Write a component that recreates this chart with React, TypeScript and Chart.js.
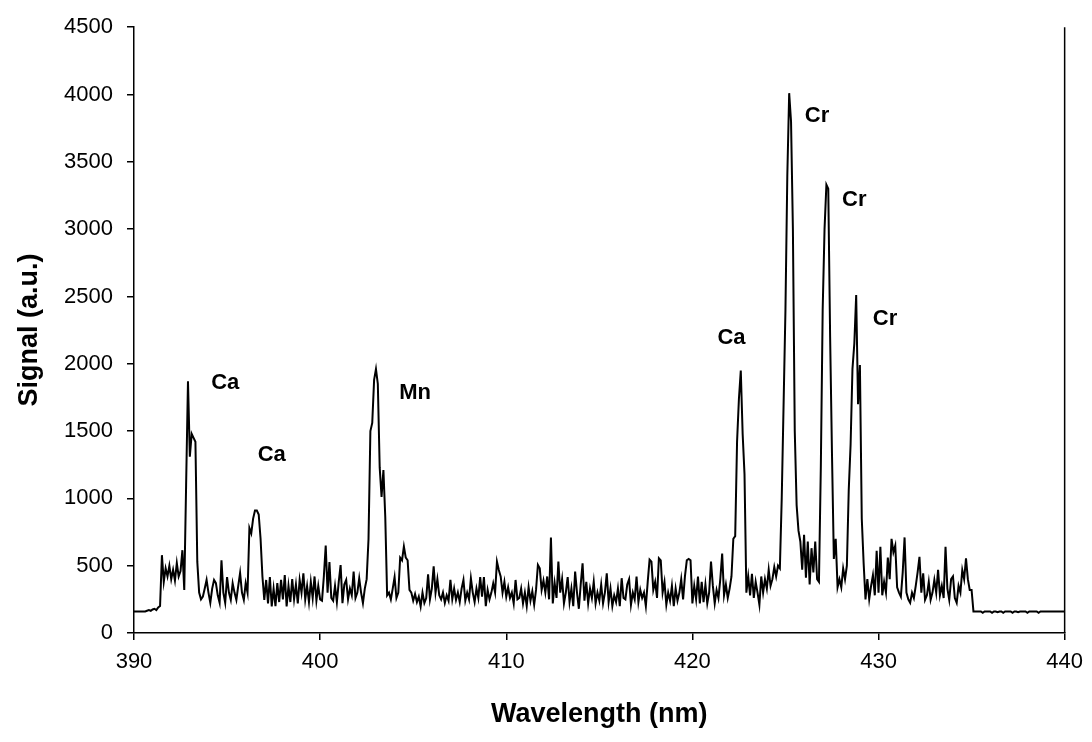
import React, { useEffect, useRef } from "react";
import { Chart, registerables } from "chart.js";

Chart.register(...registerables);

// Spectrum sampling grid (nm)
const WAVELENGTH_START = 390;
const WAVELENGTH_STEP = 0.1;

// Signal (a.u.), one value per 0.1 nm from 390.0 to 440.0
const SIGNAL: number[] = [
  // 390
  160, 160, 160, 160, 160, 160, 160, 165, 170, 165,
  // 391
  175, 180, 170, 190, 200, 578, 380, 480, 420, 500,
  // 392
  400, 470, 390, 520, 420, 460, 615, 320, 1100, 1870,
  // 393
  1310, 1480, 1450, 1420, 530, 300, 250, 270, 330, 394,
  // 394
  300, 224, 330, 394, 370, 280, 224, 540, 300, 224,
  // 395
  416, 300, 246, 370, 300, 246, 350, 446, 300, 246,
  // 396
  370, 300, 780, 740, 850, 910, 910, 880, 700, 420,
  // 397
  246, 394, 220, 416, 197, 330, 200, 370, 230, 394,
  // 398
  250, 431, 197, 350, 230, 400, 250, 360, 220, 394,
  // 399
  300, 444, 250, 350, 230, 380, 260, 420, 240, 350,
  // 400
  250, 240, 420, 650, 300, 527, 260, 240, 350, 230,
  // 401
  380, 505, 222, 360, 394, 250, 330, 280, 456, 260,
  // 402
  300, 407, 300, 222, 330, 400, 700, 1500, 1560, 1880,
  // 403
  1960, 1850, 1230, 1010, 1210, 860, 280, 300, 250, 330,
  // 404
  416, 260, 300, 560, 540, 643, 560, 540, 320, 300,
  // 405
  240, 290, 230, 270, 197, 300, 223, 260, 436, 250,
  // 406
  330, 495, 300, 400, 280, 250, 300, 223, 280, 240,
  // 407
  394, 250, 330, 246, 300, 230, 330, 394, 240, 300,
  // 408
  250, 407, 300, 230, 330, 260, 416, 270, 416, 200,
  // 409
  320, 250, 300, 369, 300, 530, 468, 420, 300, 380,
  // 410
  270, 340, 260, 300, 220, 394, 250, 260, 330, 220,
  // 411
  300, 200, 340, 240, 310, 210, 320, 505, 480, 320,
  // 412
  390, 300, 420, 250, 710, 220, 370, 260, 530, 300,
  // 413
  400, 220, 300, 416, 230, 330, 200, 456, 300, 180,
  // 414
  360, 517, 240, 380, 220, 330, 260, 380, 220, 300,
  // 415
  240, 360, 220, 300, 444, 230, 330, 200, 280, 230,
  // 416
  330, 200, 407, 260, 250, 360, 400, 210, 300, 250,
  // 417
  420, 230, 320, 260, 300, 200, 380, 545, 530, 320,
  // 418
  380, 260, 555, 540, 300, 380, 210, 300, 240, 350,
  // 419
  200, 330, 240, 300, 400, 250, 420, 540, 550, 540,
  // 420
  220, 350, 250, 420, 220, 380, 230, 360, 220, 300,
  // 421
  530, 350, 220, 320, 260, 400, 590, 280, 360, 260,
  // 422
  330, 420, 700, 720, 1420, 1740, 1950, 1480, 1180, 300,
  // 423
  420, 280, 440, 260, 380, 300, 210, 420, 300, 400,
  // 424
  330, 470, 350, 400, 490, 420, 500, 480, 1000, 1700,
  // 425
  2400, 3400, 4010, 3800, 3000, 1500, 950, 760, 680, 470,
  // 426
  730, 410, 680, 360, 630, 450, 680, 400, 380, 1230,
  // 427
  2400, 3000, 3330, 3300, 2200, 1330, 550, 700, 340, 400,
  // 428
  340, 480, 400, 500, 1060, 1400, 1960, 2150, 2510, 1700,
  // 429
  1990, 850, 520, 250, 400, 250, 350, 430, 280, 610,
  // 430
  300, 640, 280, 380, 300, 560, 400, 700, 600, 650,
  // 431
  340, 300, 270, 450, 710, 300, 250, 224, 300, 260,
  // 432
  350, 450, 566, 300, 444, 246, 280, 380, 246, 300,
  // 433
  395, 300, 470, 280, 350, 260, 640, 330, 246, 400,
  // 434
  420, 260, 224, 350, 300, 468, 400, 555, 400, 320,
  // 435
  320, 160, 160, 160, 160, 160, 150, 160, 160, 160,
  // 436
  160, 150, 160, 160, 155, 160, 160, 150, 160, 160,
  // 437
  160, 160, 150, 160, 160, 155, 160, 160, 160, 160,
  // 438
  150, 160, 160, 160, 160, 160, 150, 160, 160, 160,
  // 439
  160, 160, 160, 160, 160, 160, 160, 160, 160, 160,
  // 440
  160,
];

const X_TICKS = [390, 400, 410, 420, 430, 440];
const Y_TICKS = [0, 500, 1000, 1500, 2000, 2500, 3000, 3500, 4000, 4500];

// Peak annotations (element, wavelength, signal)
const PEAK_LABELS = ["Ca", "Ca", "Mn", "Ca", "Cr", "Cr", "Cr"];
const PEAK_LABEL_X = [394.9, 397.4, 405.1, 422.1, 426.7, 428.7, 430.35];
const PEAK_LABEL_Y = [1860, 1320, 1780, 2190, 3840, 3220, 2330];

const FONT = "'Liberation Sans', Arial, sans-serif";

export default function App() {
  const canvasRef = useRef<HTMLCanvasElement | null>(null);

  useEffect(() => {
    const canvas = canvasRef.current;
    if (!canvas) return;

    const points = SIGNAL.map((v, i) => ({
      x: Math.round((WAVELENGTH_START + i * WAVELENGTH_STEP) * 100) / 100,
      y: v,
    }));

    const annotationPlugin = {
      id: "peakLabels",
      afterDatasetsDraw(chart: any) {
        const { ctx, scales, chartArea } = chart;
        ctx.save();
        // right frame line
        ctx.strokeStyle = "#000";
        ctx.lineWidth = 1.5;
        ctx.beginPath();
        ctx.moveTo(chartArea.right, chartArea.top);
        ctx.lineTo(chartArea.right, chartArea.bottom);
        ctx.stroke();
        ctx.fillStyle = "#000";
        ctx.font = `bold 22px ${FONT}`;
        ctx.textAlign = "center";
        ctx.textBaseline = "middle";
        PEAK_LABELS.forEach((t, i) => {
          const x = scales.x.getPixelForValue(PEAK_LABEL_X[i]);
          const y = scales.y.getPixelForValue(PEAK_LABEL_Y[i]);
          ctx.fillText(t, x, y);
        });
        ctx.restore();
      },
    };

    const chart = new Chart(canvas, {
      type: "line",
      data: {
        datasets: [
          {
            data: points,
            borderColor: "#000",
            borderWidth: 2,
            pointRadius: 0,
            tension: 0,
            fill: false,
          },
        ],
      },
      options: {
        animation: false,
        responsive: false,
        maintainAspectRatio: false,
        layout: { padding: { top: 25, right: 27, left: 0, bottom: 0 } },
        plugins: {
          legend: { display: false },
          tooltip: { enabled: false },
        },
        scales: {
          x: {
            type: "linear",
            min: 390,
            max: 440,
            afterBuildTicks: (s: any) => {
              s.ticks = X_TICKS.map((v) => ({ value: v }));
            },
            afterFit: (s: any) => {
              s.height = 109;
            },
            ticks: {
              color: "#000",
              font: { family: FONT, size: 22 },
              padding: 9,
              maxRotation: 0,
              autoSkip: false,
              callback: (v: any) => String(v),
            },
            grid: {
              display: true,
              drawOnChartArea: false,
              drawTicks: true,
              tickLength: 7,
              color: "#000",
              lineWidth: 1.5,
            },
            border: { display: true, color: "#000", width: 1.5 },
            title: {
              display: true,
              text: "Wavelength (nm)",
              color: "#000",
              font: { family: FONT, size: 27, weight: "bold" },
              padding: { top: 0, bottom: 11 },
            },
          },
          y: {
            type: "linear",
            min: 0,
            max: 4500,
            afterBuildTicks: (s: any) => {
              s.ticks = Y_TICKS.map((v) => ({ value: v }));
            },
            afterFit: (s: any) => {
              s.width = 134;
            },
            ticks: {
              color: "#000",
              font: { family: FONT, size: 22 },
              padding: 14,
              autoSkip: false,
              callback: (v: any) => String(v),
            },
            grid: {
              display: true,
              drawOnChartArea: false,
              drawTicks: true,
              tickLength: 7,
              color: "#000",
              lineWidth: 1.5,
            },
            border: { display: true, color: "#000", width: 1.5 },
            title: {
              display: true,
              text: "Signal (a.u.)",
              color: "#000",
              font: { family: FONT, size: 27, weight: "bold" },
              padding: { top: 13, bottom: 0 },
            },
          },
        },
      },
      plugins: [annotationPlugin],
    });

    return () => {
      chart.destroy();
    };
  }, []);

  return (
    <div
      style={{
        position: "fixed",
        left: 0,
        top: 0,
        width: 1092,
        height: 742,
        background: "#fff",
      }}
    >
      <canvas
        ref={canvasRef}
        width={1092}
        height={742}
        style={{ width: 1092, height: 742, display: "block" }}
      />
    </div>
  );
}
